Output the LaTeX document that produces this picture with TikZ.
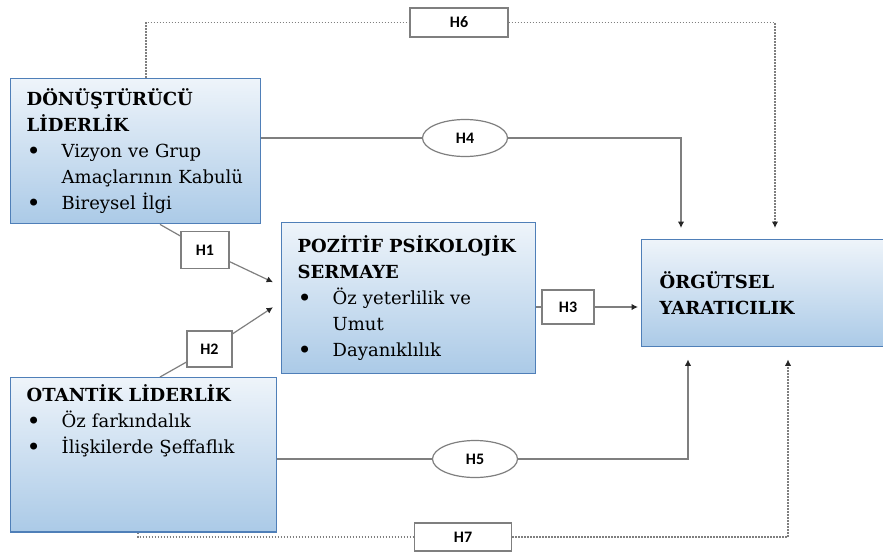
\documentclass[tikz,border=0pt]{standalone}
\usepackage{fontspec}
\setmainfont{DejaVu Serif}
\newfontfamily\lblfont{Carlito}
\usepackage{xcolor}
\usepackage{tikz}
\usetikzlibrary{shapes.geometric}
\usetikzlibrary{positioning}
\usetikzlibrary{arrows.meta}

\definecolor{bxedge}{HTML}{4F7FB8}
\definecolor{bxtop}{HTML}{EEF4FA}
\definecolor{bxbot}{HTML}{ABCAE7}
\definecolor{lnk}{HTML}{7F7F7F}

\newcommand{\blt}{\makebox[17.5pt][l]{\raisebox{-1pt}{\fontsize{12}{13}\selectfont\textbullet}}}
\newcommand{\ind}{\hspace*{17.5pt}}

\tikzset{
  bx/.style 2 args={draw=bxedge, line width=0.7pt, top color=bxtop, bottom color=bxbot,
    anchor=north west, align=left, inner xsep=8pt, text width=#1, minimum height=#2,
    font=\fontsize{9}{13}\selectfont},
  hyp/.style={draw=lnk, fill=white, line width=0.6pt, font=\lblfont\bfseries\fontsize{8}{9}\selectfont},
  hypov/.style={hyp, ellipse, inner sep=0pt, minimum width=42.5pt, minimum height=18.5pt},
  conn/.style={draw=lnk, line width=0.6pt},
  dots/.style={draw=lnk, line width=0.7pt, dash pattern=on 0.9pt off 0.6pt},
  tip/.style={-{Latex[length=3.2pt,width=3.2pt,color=black!85]}}
}

\begin{document}
\begin{tikzpicture}[x=0.5pt, y=-0.5pt]
\useasboundingbox (0,0) rectangle (883,552);

% blocks
\node[bx={109pt}{72.5pt}] (dt) at (10,78)
  {\textbf{DÖNÜŞTÜRÜCÜ}\\ \textbf{LİDERLİK}\\ \blt Vizyon ve Grup\\ \ind Amaçlarının Kabulü\\ \blt Bireysel İlgi};
\node[bx={111pt}{75.5pt}] (pps) at (281,222)
  {\textbf{POZİTİF PSİKOLOJİK}\\ \textbf{SERMAYE}\\ \blt Öz yeterlilik ve\\ \ind Umut\\ \blt Dayanıklılık};
\node[bx={107pt}{53.5pt}, inner xsep=9pt] (oy) at (641,239)
  {\textbf{ÖRGÜTSEL}\\ \textbf{YARATICILIK}};
\node[bx={117pt}{72pt}] (ol) at (10,377)
  {\textbf{OTANTİK LİDERLİK}\\ \blt Öz farkındalık\\ \blt İlişkilerde Şeffaflık\\[23pt] \mbox{}};

% hypotheses
\node[hyp, minimum width=24pt, minimum height=18.5pt] (h1) at (205,250) {H1};
\node[hyp, minimum width=22.5pt, minimum height=18pt] (h2) at (209.5,349) {H2};
\node[hyp, minimum width=26pt, minimum height=17pt] (h3) at (568,307) {H3};
\node[hypov] (h4) at (465,138) {H4};
\node[hypov] (h5) at (475,459) {H5};
\node[hyp, minimum width=49pt, minimum height=14.5pt] (h6) at (459,22.5) {H6};
\node[hyp, minimum width=48.5pt, minimum height=14pt] (h7) at (463,537) {H7};

% paths
\draw[conn] ([xshift=75pt]dt.south west) -- (h1);
\draw[conn, tip] (h1) -- ([shift={(-4pt,8pt)}]pps.west);
\draw[conn] ([xshift=75pt]ol.north west) -- (h2);
\draw[conn, tip] (h2) -- ([shift={(-4pt,-4.5pt)}]pps.west);
\draw[conn] (pps.east |- h3) -- (h3.west);
\draw[conn, tip, shorten >=1.5pt] (h3.east) -- (h3.east -| oy.west);
\draw[conn] (dt.east |- h4) -- (h4.west);
\draw[conn, tip] (h4.east) -| ([shift={(20pt,5.5pt)}]oy.north west);
\draw[conn] (ol.east |- h5) -- (h5.west);
\draw[conn, tip] (h5.east) -| ([shift={(23.5pt,-6pt)}]oy.south west);
\draw[dots] ([xshift=68pt]dt.north west) |- (h6.west);
\draw[dots, tip] (h6.east) -| ([shift={(67pt,5.5pt)}]oy.north west);
\draw[dots] ([xshift=64pt]ol.south west) |- (h7.west);
\draw[dots, tip] (h7.east) -| ([shift={(73.5pt,-6pt)}]oy.south west);
\end{tikzpicture}
\end{document}
